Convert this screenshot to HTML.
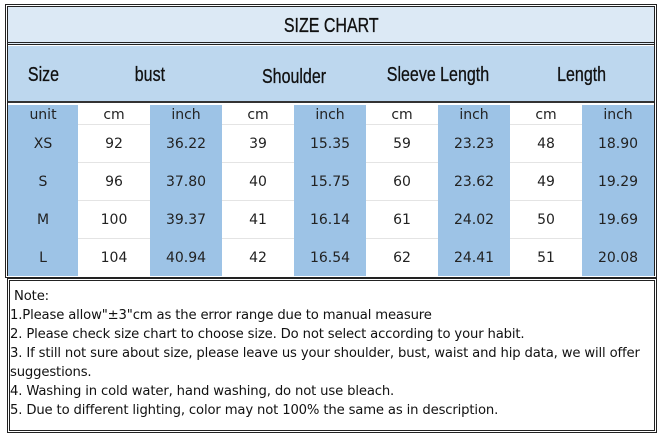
<!DOCTYPE html>
<html><head><meta charset="utf-8"><style>
body{margin:0;width:660px;height:435px;background:#fff;position:relative;overflow:hidden;font-family:"DejaVu Sans","Liberation Sans",sans-serif}
.a{position:absolute;box-sizing:border-box}
.c{position:absolute;display:flex;align-items:center;justify-content:center;font-size:14px;color:#222}
.h{font-family:"Liberation Sans",sans-serif;font-size:20px;color:#111;transform:scaleX(.8);-webkit-text-stroke:0.3px #111}
.n{position:absolute;left:10px;font-size:13.2px;color:#111;white-space:nowrap;letter-spacing:-0.15px}
</style></head><body>
<div class="a" style="left:5px;top:4px;width:652px;height:274px;border:3px double #222;background:#fff"></div>
<div class="a" style="left:8px;top:7px;width:646px;height:38px;background:#dce9f5;border-bottom:3px double #222"></div>
<div class="a" style="left:8px;top:46px;width:646px;height:57px;background:#bdd7ee;border-bottom:2px solid #333"></div>
<div id="g"></div>
<div class="c" style="left:8px;top:8px;width:646px;height:36px"><span class="h">SIZE CHART</span></div>
<div class="c" style="left:8px;top:60px;width:70px;height:30px"><span class="h">Size</span></div>
<div class="c" style="left:78px;top:60px;width:144px;height:30px"><span class="h">bust</span></div>
<div class="c" style="left:222px;top:62px;width:144px;height:30px"><span class="h">Shoulder</span></div>
<div class="c" style="left:366px;top:60px;width:144px;height:30px"><span class="h">Sleeve Length</span></div>
<div class="c" style="left:510px;top:60px;width:144px;height:30px"><span class="h">Length</span></div>
<div class="a" style="left:7px;top:278px;width:650px;height:155px;border:3px double #222"></div>
<div class="n" style="top:289px">&nbsp;Note:</div>
<div class="n" style="top:308px">1.Please allow"±3"cm as the error range due to manual measure</div>
<div class="n" style="top:327px">2. Please check size chart to choose size. Do not select according to your habit.</div>
<div class="n" style="top:346px">3. If still not sure about size, please leave us your shoulder, bust, waist and hip data, we will offer</div>
<div class="n" style="top:365px">suggestions.</div>
<div class="n" style="top:384px">4. Washing in cold water, hand washing, do not use bleach.</div>
<div class="n" style="top:403px">5. Due to different lighting, color may not 100% the same as in description.</div>
<script>
var rows=[["unit","cm","inch","cm","inch","cm","inch","cm","inch"],
["XS","92","36.22","39","15.35","59","23.23","48","18.90"],
["S","96","37.80","40","15.75","60","23.62","49","19.29"],
["M","100","39.37","41","16.14","61","24.02","50","19.69"],
["L","104","40.94","42","16.54","62","24.41","51","20.08"]];
var ys=[105,125,163,201,239,276],xs=[8,78,150,222,294,366,438,510,582,654],h="";
for(var r=0;r<5;r++)for(var c=0;c<9;c++){var bg=(c%2==0)?"#9dc3e6":"#fff";
h+='<div class="c" style="left:'+xs[c]+'px;top:'+ys[r]+'px;width:'+(xs[c+1]-xs[c])+'px;height:'+(ys[r+1]-ys[r])+'px;background:'+bg+';'+(r<4&&c%2==1?'border-bottom:1px solid #e4e4e4;box-sizing:border-box':'')+'">'+rows[r][c]+'</div>';}
document.getElementById("g").innerHTML=h;
</script>
</body></html>
